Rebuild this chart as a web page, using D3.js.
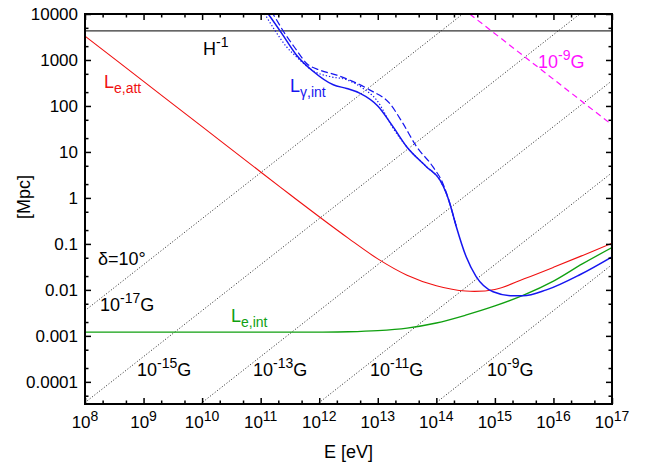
<!DOCTYPE html>
<html>
<head>
<meta charset="utf-8">
<style>
  body { margin: 0; background: #fff; }
  svg text { font-family: "Liberation Sans", Arial, Helvetica, sans-serif; }
</style>
</head>
<body>
<svg width="647" height="466"></svg>
<script src="https://d3js.org/d3.v7.min.js"></script>
<script>
// all curves are [log10(E / eV), log10(L / Mpc)]
var hubbleL = 4300;                       // H^-1 in Mpc

var eAtt = [[8, 3.52], [9, 2.535], [10, 1.55], [11, 0.565], [11.5, 0.075], [12, -0.41],
            [12.5, -0.88], [13, -1.325], [13.5, -1.68], [14, -1.91], [14.5, -2.025],
            [15, -1.99], [15.5, -1.76], [16, -1.51], [16.5, -1.25], [17, -0.985]];

var eInt = [[8, -2.92], [11, -2.92], [12, -2.918], [12.5, -2.91], [13, -2.885], [13.5, -2.83],
            [14, -2.72], [14.5, -2.55], [15, -2.35], [15.5, -2.11], [16, -1.81], [16.5, -1.43],
            [17, -1.08]];

var gSolid = [[11.0, 4.23], [11.13, 4.0], [11.36, 3.58], [11.61, 3.11], [11.90, 2.75],
              [12.24, 2.46], [12.47, 2.38], [12.69, 2.28], [13.0, 2.0], [13.26, 1.55],
              [13.49, 1.12], [13.83, 0.68], [14.06, 0.39], [14.17, 0.10], [14.23, -0.12],
              [14.34, -0.62], [14.51, -1.28], [14.68, -1.71], [14.97, -2.04], [15.31, -2.13],
              [15.48, -2.13], [15.88, -2.0], [16.45, -1.67], [17, -1.28]];

var gDash = [[11.08, 4.25], [11.21, 4.0], [11.41, 3.58], [11.61, 3.22], [11.78, 2.93],
             [12.01, 2.78], [12.30, 2.67], [12.58, 2.53], [12.86, 2.35], [13.20, 2.06],
             [13.43, 1.62], [13.66, 1.12], [13.94, 0.68], [14.11, 0.32], [14.23, -0.12],
             [14.34, -0.62]];

var gDot = [[10.95, 4.25], [11.07, 4.0], [11.24, 3.65], [11.44, 3.29], [11.61, 3.07],
            [11.90, 2.76], [12.18, 2.64], [12.47, 2.57], [12.75, 2.38], [12.98, 2.13],
            [13.26, 1.52], [13.49, 1.12], [13.83, 0.68], [14.06, 0.39], [14.17, 0.10],
            [14.23, -0.12], [14.34, -0.62]];

var b9 = [[14.57, 4.0], [17.0, 1.59]];    // magenta dashed, 10^-9 G

// delta = 10 deg deflection lines: log L = log E + offset
var fieldExp = [-17, -15, -13, -11, -9];
var fieldOffset = [-10.45, -12.45, -14.45, -16.45, -18.45];

var xMajor = [8, 9, 10, 11, 12, 13, 14, 15, 16, 17];
var yMajor = [1e-4, 1e-3, 1e-2, 1e-1, 1, 10, 100, 1000, 10000];

var svg = d3.select("svg"),
    padL = 85, padR = 612, padT = 14, padB = 404;

var x = d3.scaleLog().domain([1e8, 1e17]).range([padL, padR]);
var y = d3.scaleLog().domain([3.3e-5, 1e4]).range([padB, padT]);

svg.append("clipPath").attr("id", "clip")
  .append("rect").attr("x", padL).attr("y", padT)
  .attr("width", padR - padL).attr("height", padB - padT);

var plot = svg.append("g").attr("clip-path", "url(#clip)");

function lineGen(cv) {
  return d3.line()
    .x(function(d) { return x(Math.pow(10, d[0])); })
    .y(function(d) { return y(Math.pow(10, d[1])); })
    .curve(cv);
}

// dotted field lines
fieldOffset.forEach(function(c) {
  plot.append("path")
    .datum([[8, 8 + c], [17, 17 + c]])
    .attr("d", lineGen(d3.curveLinear))
    .attr("fill", "none").attr("stroke", "#222").attr("stroke-width", 1)
    .attr("stroke-dasharray", "1,2");
});

plot.append("line")
    .attr("x1", x(1e8)).attr("x2", x(1e17))
    .attr("y1", y(hubbleL)).attr("y2", y(hubbleL))
    .attr("stroke", "#333").attr("stroke-width", 1.2);

function curve(data, cv, color, width, dash) {
  plot.append("path").datum(data)
    .attr("d", lineGen(cv))
    .attr("fill", "none")
    .attr("stroke", color)
    .attr("stroke-width", width)
    .attr("stroke-dasharray", dash || null);
}

var smooth = d3.curveCatmullRom.alpha(0.5);
curve(eAtt, smooth, "#f01010", 1.1);
curve(eInt, smooth, "#10a010", 1.3);
curve(gDot, d3.curveMonotoneX, "#1515f0", 1.2, "1.3,2");
curve(gDash, d3.curveMonotoneX, "#1515f0", 1.2, "7,3");
curve(gSolid, d3.curveMonotoneX, "#1515f0", 1.5);
curve(b9, d3.curveLinear, "#ff10ff", 1.2, "6,4");

// axes, ticks pointing inward
var xMinor = [], yMinor = [];
d3.range(8, 17).forEach(function(p) { xMinor.push(2 * Math.pow(10, p), 5 * Math.pow(10, p)); });
d3.range(-5, 4).forEach(function(p) {
  [2, 5].forEach(function(m) {
    var v = m * Math.pow(10, p);
    if (v > 3.3e-5 && v < 1e4) yMinor.push(v);
  });
});
var xMaj = xMajor.map(function(p) { return Math.pow(10, p); });

function axis(gen, tr, vals, size) {
  var g = svg.append("g").attr("transform", tr)
    .call(gen.tickValues(vals).tickSize(size).tickFormat(""));
  g.select(".domain").remove();
  g.selectAll("line").attr("stroke", "#000").attr("stroke-width", 1.5);
}

axis(d3.axisBottom(x), "translate(0," + padB + ")", xMaj, -6);
axis(d3.axisBottom(x), "translate(0," + padB + ")", xMinor, -3.5);
axis(d3.axisTop(x), "translate(0," + padT + ")", xMaj, -6);
axis(d3.axisTop(x), "translate(0," + padT + ")", xMinor, -3.5);
axis(d3.axisLeft(y), "translate(" + padL + ",0)", yMajor, -6);
axis(d3.axisLeft(y), "translate(" + padL + ",0)", yMinor, -3.5);
axis(d3.axisRight(y), "translate(" + padR + ",0)", yMajor, -6);
axis(d3.axisRight(y), "translate(" + padR + ",0)", yMinor, -3.5);

svg.append("rect")
    .attr("x", padL).attr("y", padT)
    .attr("width", padR - padL).attr("height", padB - padT)
    .attr("fill", "none").attr("stroke", "#000").attr("stroke-width", 2);

// tick labels
svg.append("g").selectAll("text")
  .data(yMajor).enter().append("text")
    .attr("x", padL - 7)
    .attr("y", function(d) { return y(d); })
    .attr("dy", "0.36em")
    .attr("text-anchor", "end")
    .attr("font-size", 17)
    .text(function(d) { return d >= 1 ? d3.format("d")(d) : String(d); });

var xl = svg.append("g").selectAll("text")
  .data(xMajor).enter().append("text")
    .attr("x", function(d) { return x(Math.pow(10, d)); })
    .attr("y", padB + 24)
    .attr("text-anchor", "middle")
    .attr("font-size", 17);
xl.append("tspan").text("10");
xl.append("tspan").attr("dy", -7).attr("font-size", 14).text(function(d) { return d; });

// text with super/subscripts: parts = [[text, "n"|"sup"|"sub"], ...]
function label(px, py, parts, color, size) {
  var t = svg.append("text").attr("x", px).attr("y", py)
      .attr("fill", color).attr("font-size", size);
  var shift = 0;
  parts.forEach(function(p) {
    var want = p[1] == "sup" ? -0.45 * size : p[1] == "sub" ? 0.28 * size : 0;
    t.append("tspan")
      .attr("dy", want - shift)
      .attr("font-size", p[1] == "n" ? size : Math.round(size * 0.79))
      .text(p[0]);
    shift = want;
  });
}

label(203, 55, [["H", "n"], ["-1", "sup"]], "#000", 18);
label(104, 88, [["L", "n"], ["e,att", "sub"]], "#f01010", 18);
label(290, 92, [["L", "n"], ["γ,int", "sub"]], "#1515f0", 18);
label(538, 68, [["10", "n"], ["-9", "sup"], ["G", "n"]], "#ff10ff", 18);
label(98, 265, [["δ=10°", "n"]], "#000", 18);
label(231, 322, [["L", "n"], ["e,int", "sub"]], "#10a010", 18);

var fieldLabelX = [100, 137, 253, 370, 487];
fieldExp.forEach(function(e, i) {
  label(fieldLabelX[i], i == 0 ? 311 : 376, [["10", "n"], [String(e), "sup"], ["G", "n"]], "#000", 18);
});

svg.append("text")
    .attr("transform", "translate(24,197) rotate(-90)")
    .attr("text-anchor", "middle").attr("dy", "0.35em")
    .attr("font-size", 18)
    .text("[Mpc]");

svg.append("text")
    .attr("x", (padL + padR) / 2).attr("y", 458)
    .attr("text-anchor", "middle")
    .attr("font-size", 18)
    .text("E [eV]");
</script>
</body>
</html>
